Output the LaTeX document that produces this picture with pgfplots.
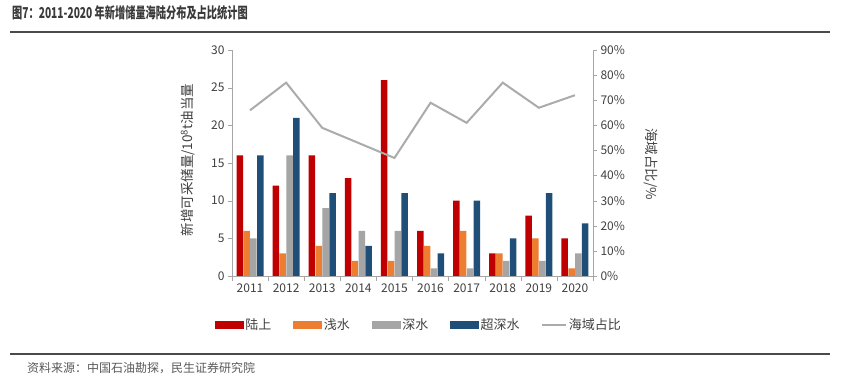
\documentclass[border=0pt]{standalone}
\usepackage{fontspec}
\setmainfont{Noto Sans CJK SC}
\usepackage{graphicx}
\usepackage{pgfplots}
\pgfplotsset{compat=1.18}
\definecolor{cRed}{HTML}{C00000}
\definecolor{cOrange}{HTML}{ED7D31}
\definecolor{cGray}{HTML}{A5A5A5}
\definecolor{cBlue}{HTML}{1F4E79}
\definecolor{cLine}{HTML}{ABABAB}
\definecolor{cAxis}{HTML}{A6A6A6}
\definecolor{cText}{HTML}{404040}
\definecolor{cTitle}{HTML}{3A3A3A}
\definecolor{cRule}{HTML}{4A4A4A}
\definecolor{cSrc}{HTML}{595959}
\begin{document}
\begin{tikzpicture}[x=1pt,y=1pt]
\path (0,0) rectangle (844,383);
\node[anchor=west, text=cTitle, inner sep=0] at (12,370) {\scalebox{0.68}[1]{\fontsize{15}{17}\selectfont\bfseries 图7：2011-2020 年新增储量海陆分布及占比统计图}};
\draw[cRule, line width=1.8] (10,351) -- (830,351);
\draw[cRule, line width=1.3] (10,29) -- (830,29);
\node[anchor=west, inner sep=0, text=cSrc] at (27,15) {\fontsize{12}{14}\selectfont 资料来源：中国石油勘探，民生证券研究院};
\node[rotate=90, text=cText, inner sep=0] at (188,223) {\fontsize{13.5}{15}\selectfont 新增可采储量/10\textsuperscript{8}t油当量};
\node[rotate=-90, text=cText, inner sep=0] at (651,219) {\fontsize{13.5}{15}\selectfont 海域占比/\%};

\begin{axis}[
  at={(232pt,107pt)}, anchor=south west, scale only axis,
  width=361pt, height=226pt,
  xmin=2010.5, xmax=2020.5, ymin=0, ymax=30,
  ytick={0,5,...,30},
  xtick={2011,...,2020},
  minor xtick={2010.5,2011.5,...,2020.5},
  major x tick style={draw=none},
  minor tick length=5pt, major tick length=4pt,
  tick align=outside,
  axis x line*=bottom, axis y line*=left,
  axis line style={draw=cAxis, -},
  tick style={draw=cAxis},
  ticklabel style={font=\fontsize{12}{14}\selectfont, text=cText},
  /pgf/number format/assume math mode=true,
  xticklabel style={/pgf/number format/1000 sep={}},
  clip=false,
]
\addplot[ybar, bar width=0.18, bar shift=-0.285, fill=cRed, draw=none] coordinates {
(2011,16) (2012,12) (2013,16) (2014,13) (2015,26) (2016,6) (2017,10) (2018,3) (2019,8) (2020,5)};
\addplot[ybar, bar width=0.18, bar shift=-0.095, fill=cOrange, draw=none] coordinates {
(2011,6) (2012,3) (2013,4) (2014,2) (2015,2) (2016,4) (2017,6) (2018,3) (2019,5) (2020,1)};
\addplot[ybar, bar width=0.18, bar shift=0.095, fill=cGray, draw=none] coordinates {
(2011,5) (2012,16) (2013,9) (2014,6) (2015,6) (2016,1) (2017,1) (2018,2) (2019,2) (2020,3)};
\addplot[ybar, bar width=0.18, bar shift=0.285, fill=cBlue, draw=none] coordinates {
(2011,16) (2012,21) (2013,11) (2014,4) (2015,11) (2016,3) (2017,10) (2018,5) (2019,11) (2020,7)};
\end{axis}

\begin{axis}[
  at={(232pt,107pt)}, anchor=south west, scale only axis,
  width=361pt, height=226pt,
  xmin=2010.5, xmax=2020.5, ymin=0, ymax=90,
  ytick={0,10,...,90},
  yticklabel={\pgfmathprintnumber{\tick}\%},
  axis x line=none, axis y line*=right,
  axis line style={draw=cAxis, -},
  tick style={draw=cAxis}, major tick length=4pt, tick align=outside,
  ticklabel style={font=\fontsize{12}{14}\selectfont, text=cText},
  /pgf/number format/assume math mode=true,
  legend style={at={(axis description cs:0.518,-0.217)}, anchor=center, draw=none, fill=none,
    font=\fontsize{13}{15}\selectfont, text=cText, legend columns=5,
    /tikz/every even column/.append style={column sep=20pt},
    inner sep=0pt},
]
\addlegendimage{legend image code/.code={\fill[cRed] (0pt,-3.5pt) rectangle (28pt,3.5pt);}}
\addlegendimage{legend image code/.code={\fill[cOrange] (0pt,-3.5pt) rectangle (28pt,3.5pt);}}
\addlegendimage{legend image code/.code={\fill[cGray] (0pt,-3.5pt) rectangle (28pt,3.5pt);}}
\addlegendimage{legend image code/.code={\fill[cBlue] (0pt,-3.5pt) rectangle (28pt,3.5pt);}}
\addplot[cLine, line width=2pt, mark=none,
  legend image code/.code={\draw[cLine, line width=1.3pt] (0pt,0pt) -- (24pt,0pt);}] coordinates {
(2011,66) (2012,77) (2013,59) (2014,53) (2015,47) (2016,69) (2017,61) (2018,77) (2019,67) (2020,72)};
\legend{陆上,浅水,深水,超深水,海域占比}
\end{axis}
\pgfresetboundingbox
\path[use as bounding box] (0,0) rectangle (844,383);
\end{tikzpicture}
\end{document}
